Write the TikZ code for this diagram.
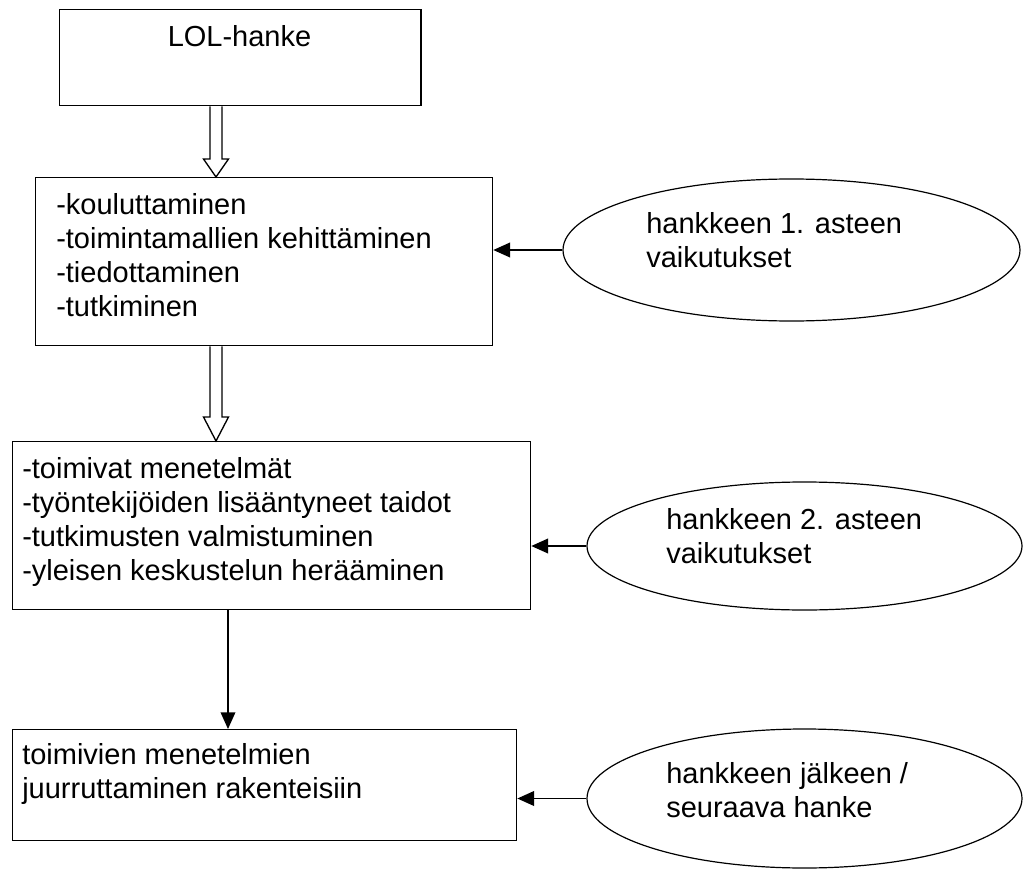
\documentclass[tikz,border=0pt]{standalone}
\usepackage{fontspec}
\setmainfont{Liberation Sans}
\usetikzlibrary{shapes.geometric,arrows.meta,calc}
\begin{document}
\begin{tikzpicture}[x=0.75pt,y=-0.75pt,
  box/.style={draw,line width=1pt,anchor=north west,inner sep=0pt},
  oval/.style={draw,ellipse,line width=0.9pt,inner sep=0pt},
  txt/.style={inner sep=0pt,align=left,anchor=north west,font=\fontsize{21.75pt}{25.5pt}\selectfont},
  conn/.style={line width=1pt,-{Triangle[length=12.5pt,width=11pt]}},
  hollow/.style={line width=1pt,fill=white,line join=miter}]
\useasboundingbox (0,0) rectangle (1031,870);
% boxes
\node[box,minimum width=271pt,minimum height=72pt] (b1) at (59,9) {};
\node[inner sep=0pt,anchor=base,font=\fontsize{21.75pt}{25.5pt}\selectfont] (t1) at (239.5,47) {LOL-hanke};
\node[box,minimum width=342.75pt,minimum height=126pt] (b2) at (35,177) {};
\node[txt] (t2) at (56,193) {-kouluttaminen\\-toimintamallien kehittäminen\\-tiedottaminen\\-tutkiminen};
\node[box,minimum width=388.5pt,minimum height=126pt] (b3) at (12,441) {};
\node[txt] (t3) at (22,457) {-toimivat menetelmät\\-työntekijöiden lisääntyneet taidot\\-tutkimusten valmistuminen\\-yleisen keskustelun herääminen};
\node[box,minimum width=378pt,minimum height=83.25pt] (b4) at (12,729) {};
\node[txt] (t4) at (22,743) {toimivien menetelmien\\juurruttaminen rakenteisiin};
% ellipses
\node[oval,minimum width=342.75pt,minimum height=106.5pt] (e1) at (791.5,250) {};
\node[txt] (te1) at (646,212) {hankkeen 1. asteen\\vaikutukset};
\node[oval,minimum width=326.25pt,minimum height=96pt] (e2) at (804.5,546) {};
\node[txt] (te2) at (666,508) {hankkeen 2. asteen\\vaikutukset};
\node[oval,minimum width=326.25pt,minimum height=104.25pt] (e3) at (804.5,798.5) {};
\node[txt] (te3) at (666,762) {hankkeen jälkeen /\\seuraava hanke};
% connectors
\draw[conn] (e1.west) -- (b2.east |- e1.west);
\draw[conn] (e2.west) -- (b3.east |- e2.west);
\draw[conn] (e3.west) -- (b4.east |- e3.west);
\coordinate (c34) at (228,0);
\draw[conn] (b3.south -| c34) -- (b4.north -| c34);
% hollow arrows
\coordinate (h) at (216,0);
\coordinate (A1) at (b1.south -| h);
\coordinate (B1) at (b2.north -| h);
\draw[hollow] ($(A1)+(-6,0)$) -- ($(B1)+(-6,-18)$) -- ($(B1)+(-12.5,-18)$) -- (B1) -- ($(B1)+(12.5,-18)$) -- ($(B1)+(6,-18)$) -- ($(A1)+(6,0)$);
\coordinate (A2) at (b2.south -| h);
\coordinate (B2) at (b3.north -| h);
\draw[hollow] ($(A2)+(-6,0)$) -- ($(B2)+(-6,-24)$) -- ($(B2)+(-12.5,-24)$) -- (B2) -- ($(B2)+(12.5,-24)$) -- ($(B2)+(6,-24)$) -- ($(A2)+(6,0)$);
\end{tikzpicture}
\end{document}
